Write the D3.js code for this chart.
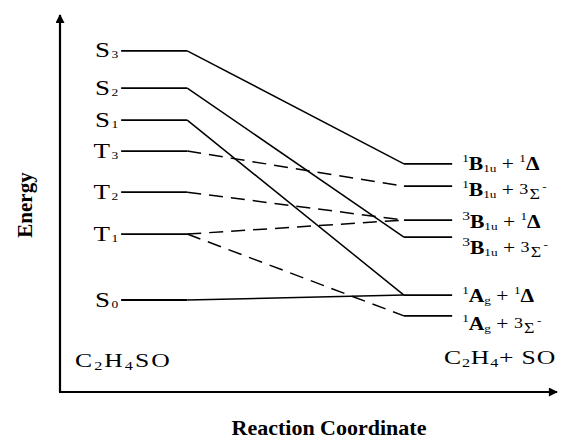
<!DOCTYPE html>
<html>
<head>
<meta charset="utf-8">
<script src="https://cdn.jsdelivr.net/npm/d3@7"></script>
<style>
  body { margin: 0; background: #fff; }
</style>
</head>
<body>
<div id="container"></div>
<script>
// reactant states (left), energy in arbitrary units
var leftNames = ["S", "S", "S", "T", "T", "T", "S"];
var leftSubs = ["3", "2", "1", "3", "2", "1", "0"];
var leftEnergy = [90.5, 80.6, 72.1, 63.9, 53.0, 41.9, 24.4];

// product states (right): C2H4 state + SO state
var rightSpin1 = ["1", "1", "3", "3", "1", "1"];
var rightSym = ["B", "B", "B", "B", "A", "A"];
var rightSymSub = ["1u", "1u", "1u", "1u", "g", "g"];
var rightSpin2 = ["1", "3", "1", "3", "1", "3"];
var rightTerm = ["Δ", "Σ", "Δ", "Σ", "Δ", "Σ"];
var rightTermSup = ["", "-", "", "-", "", "-"];
var rightEnergy = [60.5, 54.6, 45.6, 41.1, 25.7, 20.2];

// correlations: left index -> right index
var linkFrom = [0, 1, 2, 3, 4, 5, 5, 6];
var linkTo = [0, 3, 4, 1, 2, 2, 5, 4];
var linkDashed = [false, false, false, true, true, true, true, false];

var width = 561, height = 440;

var svg = d3.select("#container").append("svg")
    .attr("width", width)
    .attr("height", height)
    .attr("font-family", "Liberation Serif");

var x = d3.scaleLinear().domain([0, 1]).range([60, 557]);
var y = d3.scaleLinear().domain([0, 100]).range([392, 15]);

// where the level stubs sit along the reaction coordinate
var leftStub = [0.123, 0.256], rightStub = [0.692, 0.789];
// label nudges (px) for the product labels
var rightLabelDy = [6, 10, 8, 17, 7, 14];
// the in-plot lettering of the original is stretched sideways
var stretch = 1.35;

svg.append("defs").append("marker")
    .attr("id", "arrow")
    .attr("viewBox", "0 0 10 10")
    .attr("refX", 9).attr("refY", 5)
    .attr("markerWidth", 11).attr("markerHeight", 9)
    .attr("markerUnits", "userSpaceOnUse")
    .attr("orient", "auto")
    .append("path")
    .attr("d", "M0,0 L10,5 L0,10 Z")
    .attr("fill", "#000");

// axes
svg.append("line")
    .attr("x1", x(0)).attr("y1", y(0))
    .attr("x2", x(0)).attr("y2", y(100))
    .attr("stroke", "#000").attr("stroke-width", 2.2)
    .attr("marker-end", "url(#arrow)");
svg.append("line")
    .attr("x1", x(0) - 1).attr("y1", y(0))
    .attr("x2", x(1)).attr("y2", y(0))
    .attr("stroke", "#000").attr("stroke-width", 2.2)
    .attr("marker-end", "url(#arrow)");

// level lines
svg.selectAll(".left-level")
    .data(leftEnergy)
    .enter().append("line")
    .attr("class", "left-level")
    .attr("x1", x(leftStub[0])).attr("x2", x(leftStub[1]))
    .attr("y1", function(d) { return y(d); })
    .attr("y2", function(d) { return y(d); })
    .attr("stroke", "#000").attr("stroke-width", 1.8);

svg.selectAll(".right-level")
    .data(rightEnergy)
    .enter().append("line")
    .attr("class", "right-level")
    .attr("x1", x(rightStub[0])).attr("x2", x(rightStub[1]))
    .attr("y1", function(d) { return y(d); })
    .attr("y2", function(d) { return y(d); })
    .attr("stroke", "#000").attr("stroke-width", 1.8);

// correlation lines
svg.selectAll(".link")
    .data(linkFrom)
    .enter().append("line")
    .attr("class", "link")
    .attr("x1", x(leftStub[1]))
    .attr("y1", function(d) { return y(leftEnergy[d]); })
    .attr("x2", x(rightStub[0]))
    .attr("y2", function(d, i) { return y(rightEnergy[linkTo[i]]); })
    .attr("stroke", "#000").attr("stroke-width", 1.5)
    .attr("stroke-dasharray", function(d, i) { return linkDashed[i] ? "14,8" : null; });

// left labels
var ll = svg.selectAll(".left-label")
    .data(leftNames)
    .enter().append("text")
    .attr("class", "left-label")
    .attr("transform", function(d, i) {
        return "translate(" + (x(leftStub[0]) - 3) + "," + (y(leftEnergy[i]) + 6.5) + ") scale(" + stretch + ",1)";
    })
    .attr("text-anchor", "end")
    .style("font-size", "20px");
ll.append("tspan").text(function(d) { return d; });
ll.append("tspan")
    .attr("dx", 1)
    .attr("dy", 1)
    .style("font-size", "10px")
    .text(function(d, i) { return leftSubs[i]; });

// right labels
var rl = svg.selectAll(".right-label")
    .data(rightSym)
    .enter().append("text")
    .attr("class", "right-label")
    .attr("transform", function(d, i) {
        return "translate(" + (x(rightStub[1]) + 10) + "," + (y(rightEnergy[i]) + rightLabelDy[i]) + ") scale(1.2,1)";
    })
    .style("font-size", "18px");
rl.append("tspan")
    .attr("dy", -8)
    .style("font-size", function(d, i) { return rightSpin1[i] === "3" ? "13px" : "11px"; })
    .text(function(d, i) { return rightSpin1[i]; });
rl.append("tspan")
    .attr("dy", 8)
    .style("font-weight", "bold")
    .text(function(d) { return d; });
rl.append("tspan")
    .attr("dy", 2)
    .style("font-size", "11px")
    .text(function(d, i) { return rightSymSub[i]; });
rl.append("tspan")
    .attr("dy", -2)
    .text(" + ");
rl.append("tspan")
    .attr("dy", function(d, i) { return rightTermSup[i] ? -2 : -8; })
    .style("font-size", function(d, i) { return rightTermSup[i] ? "15px" : "11px"; })
    .text(function(d, i) { return rightSpin2[i]; });
rl.append("tspan")
    .attr("dx", function(d, i) { return rightTermSup[i] ? 1 : 0; })
    .attr("dy", function(d, i) { return rightTermSup[i] ? 5 : 8; })
    .style("font-size", function(d, i) { return rightTermSup[i] ? "15px" : "18px"; })
    .style("font-weight", function(d, i) { return rightTermSup[i] ? "normal" : "bold"; })
    .text(function(d, i) { return rightTerm[i]; });
rl.append("tspan")
    .attr("dx", 2)
    .attr("dy", -9)
    .style("font-size", "11px")
    .text(function(d, i) { return rightTermSup[i]; });

// species labels
var react = svg.append("text")
    .attr("transform", "translate(75,367) scale(" + stretch + ",1)")
    .style("font-size", "19px")
    .style("letter-spacing", "1.5px");
react.append("tspan").text("C");
react.append("tspan").attr("dy", 3).style("font-size", "12px").text("2");
react.append("tspan").attr("dy", -3).text("H");
react.append("tspan").attr("dy", 3).style("font-size", "12px").text("4");
react.append("tspan").attr("dy", -3).text("SO");

var prod = svg.append("text")
    .attr("transform", "translate(444,364) scale(" + stretch + ",1)")
    .style("font-size", "19px")
    .style("letter-spacing", "0.6px");
prod.append("tspan").text("C");
prod.append("tspan").attr("dy", 3).style("font-size", "12px").text("2");
prod.append("tspan").attr("dy", -3).text("H");
prod.append("tspan").attr("dy", 3).style("font-size", "12px").text("4");
prod.append("tspan").attr("dy", -3).text("+ SO");

// axis titles
svg.append("text")
    .attr("transform", "translate(32,205) rotate(-90)")
    .attr("text-anchor", "middle")
    .style("font-size", "21px")
    .style("font-weight", "bold")
    .text("Energy");

svg.append("text")
    .attr("x", 329).attr("y", 435)
    .attr("text-anchor", "middle")
    .style("font-size", "22px")
    .style("font-weight", "bold")
    .text("Reaction Coordinate");
</script>
</body>
</html>
